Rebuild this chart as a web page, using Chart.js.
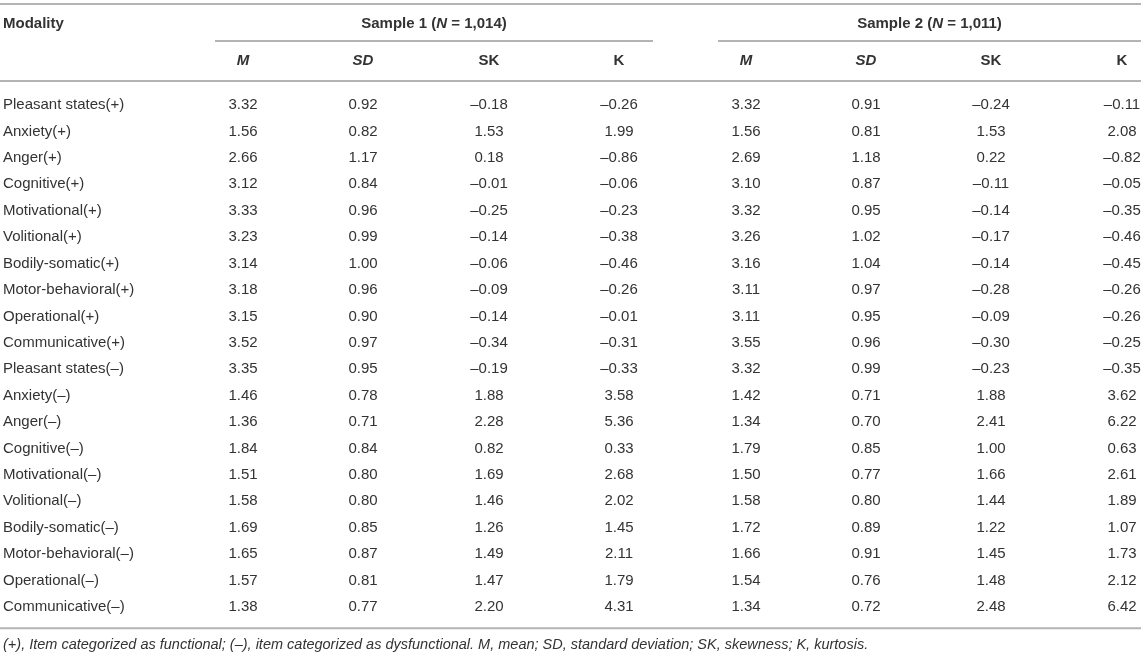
<!DOCTYPE html>
<html>
<head>
<meta charset="utf-8">
<script src="https://cdn.jsdelivr.net/npm/chart.js@4.4.0/dist/chart.umd.min.js"></script>
<style>
  html, body { margin: 0; padding: 0; background: #fff; }
  #wrap { width: 1145px; height: 656px; }
</style>
</head>
<body>
<div id="wrap"><canvas id="myChart" width="1145" height="656"></canvas></div>
<script>
'use strict';

// table data
let modalities = [
  'Pleasant states(+)', 'Anxiety(+)', 'Anger(+)', 'Cognitive(+)', 'Motivational(+)',
  'Volitional(+)', 'Bodily-somatic(+)', 'Motor-behavioral(+)', 'Operational(+)', 'Communicative(+)',
  'Pleasant states(–)', 'Anxiety(–)', 'Anger(–)', 'Cognitive(–)', 'Motivational(–)',
  'Volitional(–)', 'Bodily-somatic(–)', 'Motor-behavioral(–)', 'Operational(–)', 'Communicative(–)'
];

let s1M  = [3.32, 1.56, 2.66, 3.12, 3.33, 3.23, 3.14, 3.18, 3.15, 3.52, 3.35, 1.46, 1.36, 1.84, 1.51, 1.58, 1.69, 1.65, 1.57, 1.38];
let s1SD = [0.92, 0.82, 1.17, 0.84, 0.96, 0.99, 1.00, 0.96, 0.90, 0.97, 0.95, 0.78, 0.71, 0.84, 0.80, 0.80, 0.85, 0.87, 0.81, 0.77];
let s1SK = [-0.18, 1.53, 0.18, -0.01, -0.25, -0.14, -0.06, -0.09, -0.14, -0.34, -0.19, 1.88, 2.28, 0.82, 1.69, 1.46, 1.26, 1.49, 1.47, 2.20];
let s1K  = [-0.26, 1.99, -0.86, -0.06, -0.23, -0.38, -0.46, -0.26, -0.01, -0.31, -0.33, 3.58, 5.36, 0.33, 2.68, 2.02, 1.45, 2.11, 1.79, 4.31];

let s2M  = [3.32, 1.56, 2.69, 3.10, 3.32, 3.26, 3.16, 3.11, 3.11, 3.55, 3.32, 1.42, 1.34, 1.79, 1.50, 1.58, 1.72, 1.66, 1.54, 1.34];
let s2SD = [0.91, 0.81, 1.18, 0.87, 0.95, 1.02, 1.04, 0.97, 0.95, 0.96, 0.99, 0.71, 0.70, 0.85, 0.77, 0.80, 0.89, 0.91, 0.76, 0.72];
let s2SK = [-0.24, 1.53, 0.22, -0.11, -0.14, -0.17, -0.14, -0.28, -0.09, -0.30, -0.23, 1.88, 2.41, 1.00, 1.66, 1.44, 1.22, 1.45, 1.48, 2.48];
let s2K  = [-0.11, 2.08, -0.82, -0.05, -0.35, -0.46, -0.45, -0.26, -0.26, -0.25, -0.35, 3.62, 6.22, 0.63, 2.61, 1.89, 1.07, 1.73, 2.12, 6.42];

let columnHeaders = ['M', 'SD', 'SK', 'K', 'M', 'SD', 'SK', 'K'];
let groupHeaders = [['Sample 1 (', 'N', ' = 1,014)'], ['Sample 2 (', 'N', ' = 1,011)']];
let footnote = '(+), Item categorized as functional; (–), item categorized as dysfunctional. M, mean; SD, standard deviation; SK, skewness; K, kurtosis.';

// layout (x in pixels along the x scale, y in row units along the y scale)
let columnX = [243, 363, 489, 619, 746, 866, 991, 1122];
let groupSpan = [[215, 653], [718, 1141]];
let rowY = { top: -3.82, group: -3.07, groupRule: -2.42, head: -1.66, headRule: -0.91, bottomRule: 19.8, note: 20.44 };

let FONT = '"Liberation Sans", Arial, Helvetica, sans-serif';
let TEXT = '#333';
let RULE = '#b4b4b4';

function fmt(v) {
  return v.toFixed(2).replace('-', '–');
}

let allColumns = [s1M, s1SD, s1SK, s1K, s2M, s2SD, s2SK, s2K];
let datasets = [];
for (let c = 0; c < allColumns.length; c++) {
  datasets.push({
    label: columnHeaders[c],
    data: allColumns[c].map((v, i) => ({ x: columnX[c], y: i, v: v })),
    pointRadius: 0,
    showLine: false
  });
}
datasets.push({
  label: 'Modality',
  data: modalities.map((m, i) => ({ x: 3, y: i, v: m })),
  pointRadius: 0,
  showLine: false
});

function drawRule(ctx, x0, x1, y) {
  ctx.beginPath();
  ctx.moveTo(x0, y);
  ctx.lineTo(x1, y);
  ctx.stroke();
}

function drawPieces(ctx, pieces, cx, y) {
  // pieces: [text, font], centred as one string
  let total = 0;
  for (let p of pieces) {
    ctx.font = p[1];
    total += ctx.measureText(p[0]).width;
  }
  let x = cx - total / 2;
  ctx.textAlign = 'left';
  for (let p of pieces) {
    ctx.font = p[1];
    ctx.fillText(p[0], x, y);
    x += ctx.measureText(p[0]).width;
  }
}

let tablePlugin = {
  id: 'tableText',
  afterDatasetsDraw(chart) {
    let ctx = chart.ctx;
    let xs = chart.scales.x;
    let ys = chart.scales.y;
    ctx.save();
    ctx.textBaseline = 'middle';
    ctx.fillStyle = TEXT;

    // rules
    ctx.strokeStyle = RULE;
    ctx.lineWidth = 2;
    drawRule(ctx, xs.getPixelForValue(0), xs.getPixelForValue(1141), ys.getPixelForValue(rowY.top));
    for (let g of groupSpan) {
      drawRule(ctx, xs.getPixelForValue(g[0]), xs.getPixelForValue(g[1]), ys.getPixelForValue(rowY.groupRule));
    }
    drawRule(ctx, xs.getPixelForValue(0), xs.getPixelForValue(1141), ys.getPixelForValue(rowY.headRule));
    drawRule(ctx, xs.getPixelForValue(0), xs.getPixelForValue(1141), ys.getPixelForValue(rowY.bottomRule));

    // header
    let bold = 'bold 15px ' + FONT;
    let boldIt = 'italic bold 15px ' + FONT;
    ctx.font = bold;
    ctx.textAlign = 'left';
    ctx.fillText('Modality', xs.getPixelForValue(3), ys.getPixelForValue(rowY.group));
    for (let g = 0; g < groupHeaders.length; g++) {
      let cx = xs.getPixelForValue((groupSpan[g][0] + groupSpan[g][1]) / 2);
      let h = groupHeaders[g];
      drawPieces(ctx, [[h[0], bold], [h[1], boldIt], [h[2], bold]], cx, ys.getPixelForValue(rowY.group));
    }
    ctx.textAlign = 'center';
    for (let c = 0; c < columnHeaders.length; c++) {
      let name = columnHeaders[c];
      ctx.font = (name === 'M' || name === 'SD') ? boldIt : bold;
      ctx.fillText(name, xs.getPixelForValue(columnX[c]), ys.getPixelForValue(rowY.head));
    }

    // cells
    ctx.font = '15px ' + FONT;
    chart.data.datasets.forEach((ds, di) => {
      let meta = chart.getDatasetMeta(di);
      ctx.textAlign = ds.label === 'Modality' ? 'left' : 'center';
      meta.data.forEach((pt, i) => {
        let raw = ds.data[i].v;
        ctx.fillText(typeof raw === 'number' ? fmt(raw) : raw, pt.x, pt.y);
      });
    });

    // footnote
    ctx.font = 'italic 14.5px ' + FONT;
    ctx.textAlign = 'left';
    ctx.fillText(footnote, xs.getPixelForValue(3), ys.getPixelForValue(rowY.note));
    ctx.restore();
  }
};

let ctx = document.getElementById('myChart').getContext('2d');
let myChart = new Chart(ctx, {
  type: 'scatter',
  data: { datasets: datasets },
  options: {
    responsive: false,
    animation: false,
    layout: { padding: 0 },
    scales: {
      x: { type: 'linear', min: 0, max: 1145, display: false },
      y: { type: 'linear', reverse: true, min: -3.974, max: 20.855, display: false }
    },
    plugins: {
      legend: { display: false },
      tooltip: { enabled: false }
    }
  },
  plugins: [tablePlugin]
});
</script>
</body>
</html>
